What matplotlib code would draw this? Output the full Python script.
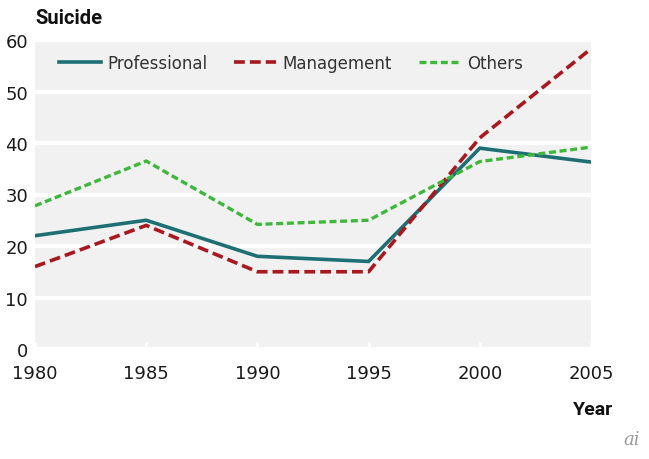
import matplotlib
matplotlib.use("Agg")
import matplotlib.pyplot as plt

years = [1980, 1985, 1990, 1995, 2000, 2005]
professional = [22, 25, 18, 17, 39, 36.3]
management = [16, 24, 15, 15, 41, 58.3]
others = [27.8, 36.5, 24.2, 25, 36.4, 39.2]
y_ticks = [0, 10, 20, 30, 40, 50, 60]

fig = plt.figure(figsize=(6.49, 4.60), dpi=100)
ax = fig.add_axes([35/649, 1-350/460, (591-35)/649, (350-41)/460])
ax.set_facecolor("#f1f1f1")
for s in ax.spines.values():
    s.set_visible(False)

ax.set_xlim(1980, 2005)
ax.set_ylim(0, 60)
ax.set_yticks(y_ticks)
ax.set_xticks(years)
ax.grid(axis="y", color="white", linewidth=3)
ax.set_axisbelow(True)
ax.tick_params(axis="y", length=0, pad=5, labelsize=13, labelcolor="#1a1a1a")
ax.tick_params(axis="x", direction="in", length=5, width=2, color="white",
               pad=11, labelsize=13, labelcolor="#1a1a1a")
for lab in ax.get_xticklabels() + ax.get_yticklabels():
    lab.set_family("DejaVu Sans")

ax.plot(years, professional, color="#1d6f74", lw=2.6, label="Professional",
        solid_joinstyle="miter")
ax.plot(years, management, color="#a8191f", lw=2.6, dashes=(3, 1.4),
        label="Management")
ax.plot(years, others, color="#3db83a", lw=2.4, dashes=(2.1, 1.1),
        label="Others")

leg = ax.legend(loc="center left", ncol=3,
                frameon=False, handlelength=2.5, handletextpad=0.4,
                columnspacing=1.6, borderpad=0, borderaxespad=0,
                prop={"family": "DejaVu Sans", "size": 12})
leg.set_bbox_to_anchor(((59-35)/556, (350-64)/309), transform=ax.transAxes)
for t in leg.get_texts():
    t.set_color("#333333")

fig.text(35/649, 1-19/460, "Suicide", fontsize=14.5, fontweight="bold",
         family="Roboto", ha="left", va="center", color="#111111")
fig.text(613/649, 1-410/460, "Year", fontsize=14, fontweight="bold",
         family="Roboto", ha="right", va="center", color="#111111")
fig.text(640/649, 1-440/460, "ai", fontsize=13, style="italic",
         family="DejaVu Serif", ha="right", va="center", color="#9a9a9a")

fig.savefig("out.png", dpi=100)
